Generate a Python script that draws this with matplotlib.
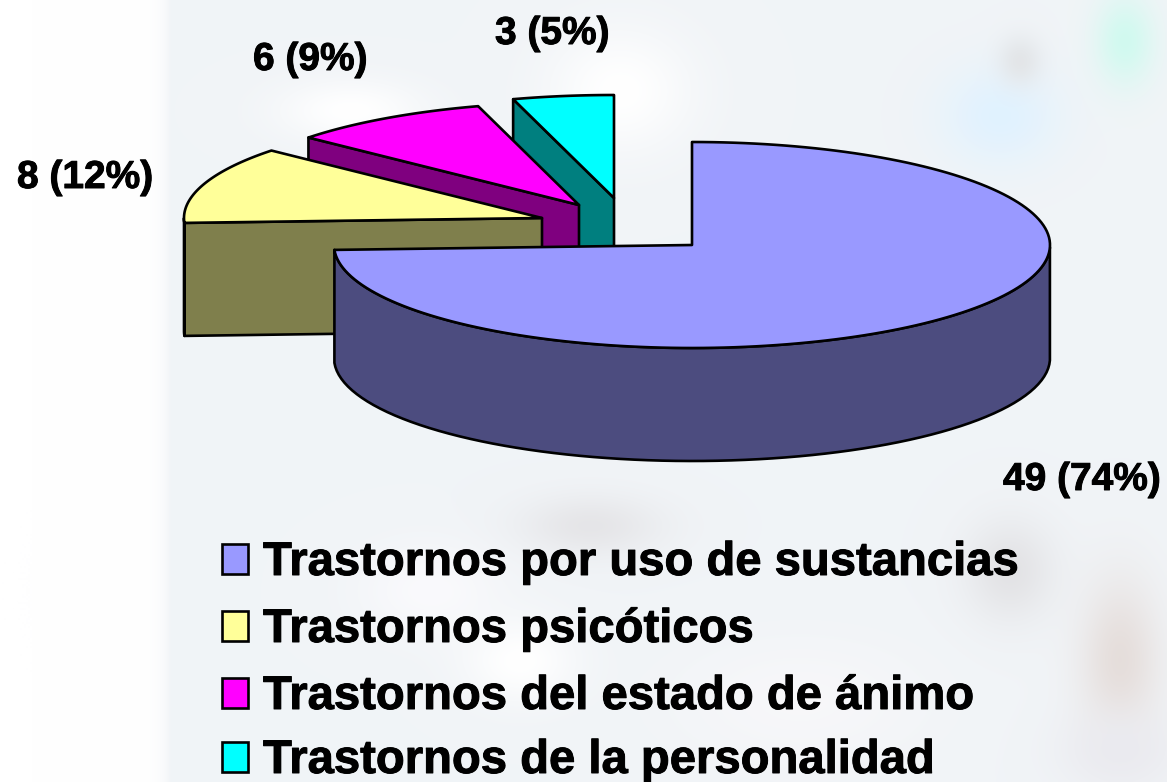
import numpy as np
import matplotlib
matplotlib.use("Agg")
import matplotlib.pyplot as plt
import matplotlib.patheffects as pe
from matplotlib.patches import Polygon, Rectangle

categories = ["Trastornos por uso de sustancias", "Trastornos psicóticos",
              "Trastornos del estado de ánimo", "Trastornos de la personalidad"]
values = [49, 8, 6, 3]
value_labels = ["49 (74%)", "8 (12%)", "6 (9%)", "3 (5%)"]

top_colors = ["#9999ff", "#ffff99", "#ff00ff", "#00ffff"]
side_colors = ["#4c4c7f", "#7f7f4c", "#7f007f", "#007f7f"]

# pie geometry in pixels
centers = [(692, 245), (542, 218), (579, 205), (614, 198)]
rx, ry = 358, 103
depth = 113
label_pos = [(1003, 490), (17, 188), (253, 70), (495, 44)]

W, H = 1167, 782
fig = plt.figure(figsize=(W / 100, H / 100), dpi=100)
ax = fig.add_axes([0, 0, 1, 1])
ax.set_xlim(0, W)
ax.set_ylim(H, 0)
ax.axis("off")

# washed out collage behind the chart
yy, xx = np.mgrid[0:H:2, 0:W:2]
bg = np.ones((yy.shape[0], yy.shape[1], 3)) * np.array([0.945, 0.957, 0.969])
fade = (np.clip(xx / 170, 0, 1) ** 20)[..., None]
bg = 1 - (1 - bg) * fade
blobs = [(1000, 115, 60, 50, (0.88, 0.95, 1.0)), (1125, 40, 30, 45, (0.82, 0.98, 0.94)),
         (1020, 60, 22, 25, (0.89, 0.9, 0.91)), (620, 90, 70, 60, (1, 1, 1)),
         (350, 110, 70, 30, (1, 1, 1)), (1120, 660, 40, 80, (0.9, 0.87, 0.86)),
         (1010, 570, 45, 50, (0.89, 0.89, 0.9)), (590, 525, 70, 30, (0.9, 0.9, 0.91)),
         (430, 590, 70, 45, (0.98, 0.98, 0.99)), (520, 660, 55, 40, (1, 1, 1)),
         (1120, 750, 60, 40, (0.92, 0.92, 0.94)), (800, 700, 120, 60, (0.97, 0.97, 0.98))]
for bx, by, sx, sy, col in blobs:
    a = np.exp(-((xx - bx) / sx) ** 2 - ((yy - by) / sy) ** 2)[..., None]
    bg = bg * (1 - a) + np.array(col) * a
ax.imshow(bg, extent=(0, W, H, 0), aspect="auto", zorder=0, interpolation="bilinear")

angles = 90 - np.cumsum([0] + values) / sum(values) * 360
edge = dict(edgecolor="black", linewidth=1.9, joinstyle="round")


def rim(cx, cy, a0, a1, n=80):
    t = np.radians(np.linspace(a0, a1, n))
    return np.column_stack([cx + rx * np.cos(t), cy - ry * np.sin(t)])


# back slices first, the big one goes on top of them
z = 2
for i in range(len(values) - 1, -1, -1):
    cx, cy = centers[i]
    a0, a1 = angles[i], angles[i + 1]
    start = rim(cx, cy, a0, a0, 1)[0]
    # cut face on the counter-clockwise end of the slice
    face = [start, (cx, cy), (cx, cy + depth), (start[0], start[1] + depth)]
    ax.add_patch(Polygon(face, facecolor=side_colors[i], zorder=z, **edge))
    z += 1
    # outer wall, only the part facing the viewer
    t = np.linspace(a1, a0, 200)
    front = t[np.sin(np.radians(t)) < 0]
    if len(front) > 1:
        arc = rim(cx, cy, front[0], front[-1])
        wall = np.vstack([arc, arc[::-1] + [0, depth]])
        ax.add_patch(Polygon(wall, facecolor=side_colors[i], zorder=z, **edge))
        z += 1
    top = np.vstack([[(cx, cy)], rim(cx, cy, a0, a1, 160)])
    ax.add_patch(Polygon(top, facecolor=top_colors[i], zorder=z, **edge))
    z += 1

font = ["Liberation Sans", "DejaVu Sans"]
heavy = [pe.withStroke(linewidth=0.7, foreground="black")]
for lab, (x, y) in zip(value_labels, label_pos):
    ax.text(x, y, lab, fontsize=28, fontweight="bold", family=font, ha="left",
            va="baseline", zorder=50, path_effects=heavy)

legend_base = [575, 642, 709, 773]
for name, col, y in zip(categories, top_colors, legend_base):
    ax.add_patch(Rectangle((221.5, y - 31), 26, 30, facecolor=col, edgecolor="black",
                           linewidth=1.9, zorder=50))
    ax.text(263, y, name, fontsize=34, fontweight="bold", family=font, ha="left",
            va="baseline", zorder=50, path_effects=heavy)

fig.savefig("out.png", dpi=100)
